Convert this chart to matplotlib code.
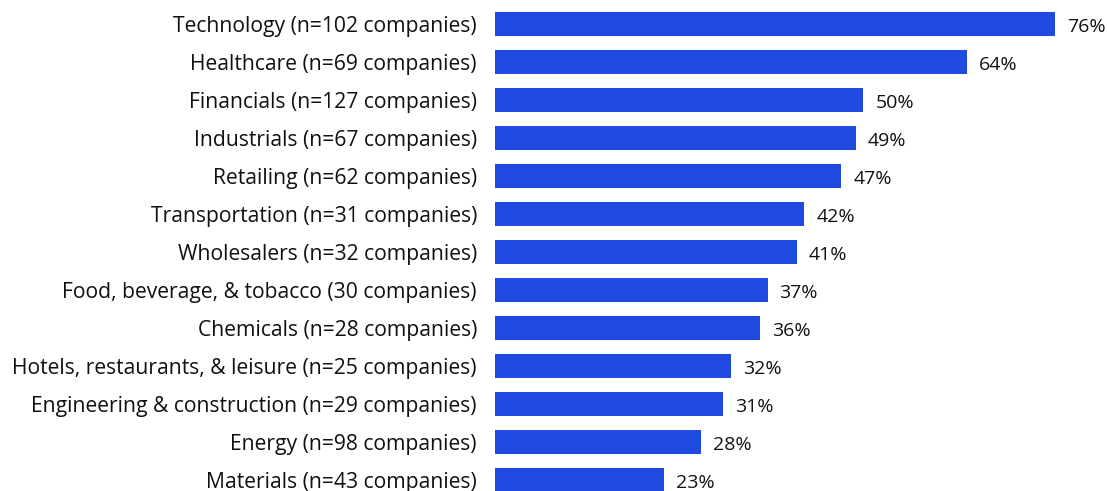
import matplotlib.pyplot as plt

plt.rcParams['font.family'] = ['Open Sans', 'DejaVu Sans']

sectors = [
    'Technology (n=102 companies)',
    'Healthcare (n=69 companies)',
    'Financials (n=127 companies)',
    'Industrials (n=67 companies)',
    'Retailing (n=62 companies)',
    'Transportation (n=31 companies)',
    'Wholesalers (n=32 companies)',
    'Food, beverage, & tobacco (30 companies)',
    'Chemicals (n=28 companies)',
    'Hotels, restaurants, & leisure (n=25 companies)',
    'Engineering & construction (n=29 companies)',
    'Energy (n=98 companies)',
    'Materials (n=43 companies)',
]
shares = [76, 64, 50, 49, 47, 42, 41, 37, 36, 32, 31, 28, 23]

bar_color = '#1e4ae0'

fig = plt.figure(figsize=(11.07, 4.91), dpi=100)
ax = fig.add_axes([495 / 1107, 0, 612 / 1107, 1])

pos = list(range(len(sectors)))
ax.barh(pos, shares, height=0.63, color=bar_color)

# value labels just past the bar ends
for y, v in zip(pos, shares):
    ax.annotate(f'{v}%', xy=(v, y), xytext=(8.6, -1), textcoords='offset points',
                ha='left', va='center_baseline', fontsize=14, color='#111111')

ax.set_xlim(0, 612 / 7.368)
ax.set_ylim(12 + 11 / 38, -24 / 38)
ax.set_yticks(pos)
ax.set_yticklabels(sectors, fontsize=15.2, color='#111111')
ax.tick_params(axis='y', length=0, pad=13)
ax.set_xticks([])
for s in ax.spines.values():
    s.set_visible(False)

fig.savefig('out.png', dpi=100)
